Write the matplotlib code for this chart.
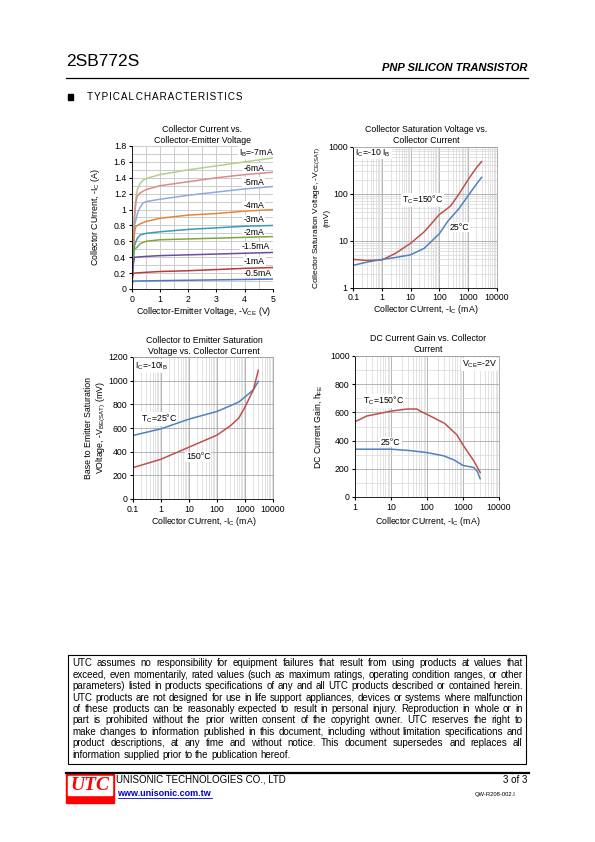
import matplotlib

matplotlib.use("Agg")
from matplotlib import pyplot as plt
from matplotlib.patches import Rectangle
from matplotlib.ticker import FuncFormatter, LogLocator, MultipleLocator, NullFormatter

W, H = 595, 842

# ---- data: Collector current vs collector-emitter voltage ----
ib_labels = ["I$_\\mathrm{B}$=-7mA", "-6mA", "-5mA", "-4mA", "-3mA", "-2mA", "-1.5mA", "-1mA", "-0.5mA"]
ib_label_y = [1.72, 1.52, 1.34, 1.045, 0.87, 0.71, 0.53, 0.34, 0.2]
ib_label_x = [3.78, 3.95, 3.95, 3.95, 3.95, 3.95, 3.88, 3.97, 3.97]
ib_colors = ["#b3d08c", "#d98c8c", "#8faadb", "#e8853a", "#3a9bb3", "#80a83f", "#6b4b9e", "#b83c3c", "#4a79c2"]

vce_7 = [0, 0.05, 0.1, 0.15, 0.2, 0.3, 0.4, 0.6, 1, 2, 3, 4, 5]
ic_7 = [0, 0.5, 0.95, 1.15, 1.25, 1.33, 1.37, 1.40, 1.44, 1.50, 1.55, 1.60, 1.65]
vce_6 = [0, 0.05, 0.1, 0.15, 0.2, 0.3, 0.5, 1, 2, 3, 4, 5]
ic_6 = [0, 0.5, 0.9, 1.1, 1.17, 1.21, 1.25, 1.3, 1.35, 1.4, 1.44, 1.47]
vce_5 = [0, 0.05, 0.1, 0.2, 0.3, 0.4, 0.5, 1, 2, 3, 4, 5]
ic_5 = [0, 0.45, 0.8, 0.95, 1.03, 1.08, 1.1, 1.13, 1.18, 1.22, 1.26, 1.29]
vce_4 = [0, 0.05, 0.1, 0.15, 0.3, 0.5, 1, 2, 3, 4, 5]
ic_4 = [0, 0.45, 0.72, 0.79, 0.82, 0.85, 0.89, 0.93, 0.95, 0.98, 1.0]
vce_3 = [0, 0.05, 0.1, 0.2, 0.3, 0.5, 1, 2, 3, 4, 5]
ic_3 = [0, 0.4, 0.55, 0.64, 0.68, 0.7, 0.72, 0.75, 0.77, 0.79, 0.8]
vce_2 = [0, 0.05, 0.1, 0.2, 0.3, 0.5, 1, 2, 3, 4, 5]
ic_2 = [0, 0.35, 0.5, 0.53, 0.57, 0.6, 0.62, 0.63, 0.64, 0.65, 0.66]
vce_15 = [0, 0.05, 0.1, 0.3, 0.5, 1, 2, 3, 4, 5]
ic_15 = [0, 0.3, 0.4, 0.405, 0.41, 0.42, 0.43, 0.44, 0.45, 0.46]
vce_1 = [0, 0.03, 0.07, 0.5, 1, 2, 3, 4, 5]
ic_1 = [0, 0.15, 0.2, 0.21, 0.22, 0.23, 0.245, 0.26, 0.27]
vce_05 = [0, 0.03, 0.07, 1, 2, 3, 4, 5]
ic_05 = [0, 0.08, 0.1, 0.105, 0.11, 0.115, 0.12, 0.125]

# ---- data: VCE(sat) vs IC ----
vce_sat_ic_150 = [0.1, 0.3, 1, 3, 10, 30, 60, 100, 150, 250, 500, 1000, 2000, 3000]
vce_sat_150 = [4.0, 3.8, 3.9, 5.4, 8.8, 15.5, 25, 36, 43, 55, 100, 195, 360, 480]
vce_sat_ic_25 = [0.1, 0.3, 1, 3, 10, 30, 100, 200, 500, 1000, 2000, 3000]
vce_sat_25 = [3.0, 3.5, 4.0, 4.4, 5.0, 6.9, 14, 26, 49, 89, 160, 222]

# ---- data: VBE(sat) vs IC ----
vbe_ic = [0.1, 1, 10, 100, 300, 600, 1000, 2000, 3000]
vbe_25 = [537, 593, 675, 740, 788, 820, 862, 924, 994]
vbe_150 = [265, 336, 438, 540, 619, 684, 777, 924, 1088]

# ---- data: hFE vs IC ----
hfe_ic_150 = [1, 2.1, 10, 28, 52, 65, 100, 310, 680, 1000, 2000, 3000]
hfe_150 = [534, 574, 609, 624, 624, 609, 586, 522, 440, 369, 256, 174]
hfe_ic_25 = [1, 10, 34, 100, 290, 550, 1000, 2000, 2500, 3000]
hfe_25 = [339, 339, 329, 315, 292, 264, 224, 209, 181, 129]

RED = "#c0504d"
BLUE = "#4f81bd"

disclaimer_lines = [
    "UTC assumes no responsibility for equipment failures that result from using products at values that",
    "exceed, even momentarily, rated values (such as maximum ratings, operating condition ranges, or other",
    "parameters) listed in products specifications of any and all UTC products described or contained herein.",
    "UTC products are not designed for use in life support appliances, devices or systems where malfunction",
    "of these products can be reasonably expected to result in personal injury. Reproduction in whole or in",
    "part is prohibited without the prior written consent of the copyright owner. UTC reserves the right to",
    "make changes to information published in this document, including without limitation specifications and",
    "product descriptions, at any time and without notice.  This document supersedes and replaces all",
    "information supplied prior to the publication hereof.",
]


def configure_plots():
    plt.rcParams.update(
        {
            "font.family": "Liberation Sans",
            "font.size": 6.3,
            "mathtext.fontset": "custom",
            "mathtext.rm": "Liberation Sans",
            "mathtext.it": "Liberation Sans:italic",
            "mathtext.bf": "Liberation Sans:bold",
            "xtick.labelsize": 6.3,
            "ytick.labelsize": 6.3,
            "xtick.major.size": 2,
            "ytick.major.size": 2,
            "xtick.minor.size": 0,
            "ytick.minor.size": 0,
            "xtick.major.pad": 2,
            "ytick.major.pad": 2,
            "axes.linewidth": 0.6,
        }
    )


def px_axes(fig, left, top, right, bottom):
    return fig.add_axes([left / W, 1 - bottom / H, (right - left) / W, (bottom - top) / H])


def ftext(fig, x, y, s, **kw):
    return fig.text(x / W, 1 - y / H, s, **kw)


def style_axes(ax):
    for side in ["top", "right"]:
        ax.spines[side].set_color("#a0a0a0")
    for side in ["left", "bottom"]:
        ax.spines[side].set_color("black")
    ax.set_axisbelow(True)


def log_x(ax, lo, hi):
    ax.set_xscale("log")
    ax.set_xlim(lo, hi)
    ax.xaxis.set_minor_locator(LogLocator(base=10, subs=range(2, 10), numticks=20))
    ax.xaxis.set_minor_formatter(NullFormatter())
    ax.xaxis.set_major_formatter(FuncFormatter(lambda v, p: f"{v:g}"))


def label_box(ax, x, y, s, **kw):
    # white patch hides the grid but stays under the curves
    ax.text(x, y, s, fontsize=6.3, zorder=1.5,
            bbox=dict(facecolor="white", edgecolor="none", pad=0.6), **kw)


def plot_ic_vce(fig):
    ax = px_axes(fig, 131.7, 146, 273, 289)
    curves = [(vce_7, ic_7), (vce_6, ic_6), (vce_5, ic_5), (vce_4, ic_4), (vce_3, ic_3),
              (vce_2, ic_2), (vce_15, ic_15), (vce_1, ic_1), (vce_05, ic_05)]
    for (v, i), c in zip(curves, ib_colors):
        ax.plot(v, i, color=c, lw=1.1, zorder=2)
    for x, y, s in zip(ib_label_x, ib_label_y, ib_labels):
        label_box(ax, x, y, s, va="center", ha="left")
    ax.set_xlim(0, 5)
    ax.set_ylim(0, 1.8)
    ax.xaxis.set_major_locator(MultipleLocator(1))
    ax.xaxis.set_minor_locator(MultipleLocator(0.5))
    ax.yaxis.set_major_locator(MultipleLocator(0.2))
    ax.yaxis.set_minor_locator(MultipleLocator(0.1))
    ax.yaxis.set_major_formatter(FuncFormatter(lambda v, p: f"{v:.1f}".rstrip("0").rstrip(".")))
    ax.grid(which="both", color="#c4c4c4", lw=0.6)
    style_axes(ax)
    ax.spines["top"].set_visible(False)
    ax.spines["right"].set_visible(False)
    ftext(fig, 202, 135, "Collector Current vs.\nCollector-Emitter Voltage", ha="center", va="center",
          fontsize=6.3, linespacing=1.2)
    ftext(fig, 204, 311, "Collector-Emitter Voltage, -V$_\\mathrm{CE}$ (V)", ha="center", va="center")
    ftext(fig, 96, 217, "Collector CUrrent, -I$_\\mathrm{C}$ (A)", ha="center", va="center", rotation=90)


def plot_vce_sat(fig):
    ax = px_axes(fig, 353.3, 146.7, 496.5, 287.7)
    ax.plot(vce_sat_ic_150, vce_sat_150, color=RED, lw=1.1)
    ax.plot(vce_sat_ic_25, vce_sat_25, color=BLUE, lw=1.1)
    log_x(ax, 0.1, 10000)
    ax.set_yscale("log")
    ax.set_ylim(1, 1000)
    ax.yaxis.set_minor_locator(LogLocator(base=10, subs=range(2, 10), numticks=20))
    ax.yaxis.set_minor_formatter(NullFormatter())
    ax.yaxis.set_major_formatter(FuncFormatter(lambda v, p: f"{v:g}"))
    ax.grid(which="major", color="#a8a8a8", lw=0.6)
    ax.grid(which="minor", color="#d8d8d8", lw=0.5)
    style_axes(ax)
    label_box(ax, 0.115, 740, "I$_\\mathrm{C}$=-10 I$_\\mathrm{B}$", va="center", ha="left")
    label_box(ax, 5, 73, "T$_\\mathrm{C}$=150°C", va="center", ha="left")
    label_box(ax, 237, 19.5, "25°C", va="center", ha="left")
    ftext(fig, 426, 135, "Collector Saturation Voltage vs.\nCollector Current", ha="center", va="center",
          linespacing=1.2)
    ftext(fig, 426, 310, "Collector CUrrent, -I$_\\mathrm{C}$ (mA)", ha="center", va="center")
    ftext(fig, 321, 218, "Collector Saturation Voltage, -V$_\\mathrm{CE(SAT)}$\n(mV)", ha="center",
          va="center", rotation=90, linespacing=1.3, fontsize=6.0)


def plot_vbe_sat(fig):
    ax = px_axes(fig, 133, 357, 273, 499)
    ax.plot(vbe_ic, vbe_25, color=BLUE, lw=1.1)
    ax.plot(vbe_ic, vbe_150, color=RED, lw=1.1)
    log_x(ax, 0.1, 10000)
    ax.set_ylim(0, 1200)
    ax.yaxis.set_major_locator(MultipleLocator(200))
    ax.grid(which="major", color="#a8a8a8", lw=0.6)
    ax.grid(which="minor", axis="x", color="#d8d8d8", lw=0.5)
    style_axes(ax)
    label_box(ax, 0.115, 1125, "I$_\\mathrm{C}$=-10I$_\\mathrm{B}$", va="center", ha="left")
    label_box(ax, 0.19, 676, "T$_\\mathrm{C}$=25°C", va="center", ha="left")
    label_box(ax, 7.8, 355, "150°C", va="center", ha="left")
    ftext(fig, 204, 346, "Collector to Emitter Saturation\nVoltage vs. Collector Current", ha="center",
          va="center", linespacing=1.2)
    ftext(fig, 204, 521, "Collector CUrrent, -I$_\\mathrm{C}$ (mA)", ha="center", va="center")
    ftext(fig, 96, 428, "Base to Emitter Saturation\nVOltage, -V$_\\mathrm{BE(SAT)}$ (mV)", ha="center",
          va="center", rotation=90, linespacing=1.3)


def plot_hfe(fig):
    ax = px_axes(fig, 355, 356, 499, 497)
    ax.plot(hfe_ic_150, hfe_150, color=RED, lw=1.1)
    ax.plot(hfe_ic_25, hfe_25, color=BLUE, lw=1.1)
    log_x(ax, 1, 10000)
    ax.set_ylim(0, 1000)
    ax.yaxis.set_major_locator(MultipleLocator(200))
    ax.yaxis.set_minor_locator(MultipleLocator(100))
    ax.grid(which="major", color="#a8a8a8", lw=0.6)
    ax.grid(which="minor", color="#d8d8d8", lw=0.5)
    style_axes(ax)
    label_box(ax, 9000, 940, "V$_\\mathrm{CE}$=-2V", va="center", ha="right")
    label_box(ax, 1.67, 680, "T$_\\mathrm{C}$=150°C", va="center", ha="left")
    label_box(ax, 5.3, 390, "25°C", va="center", ha="left")
    ftext(fig, 428, 344, "DC Current Gain vs. Collector\nCurrent", ha="center", va="center", linespacing=1.2)
    ftext(fig, 428, 521, "Collector CUrrent, -I$_\\mathrm{C}$ (mA)", ha="center", va="center")
    ftext(fig, 318, 427, "DC Current Gain, h$_\\mathrm{FE}$", ha="center", va="center", rotation=90)


def text_width(fig, renderer, s, fontsize):
    t = fig.text(0, 0, s, fontsize=fontsize)
    w = t.get_window_extent(renderer).width
    t.remove()
    return w


def justified_line(fig, renderer, text, x0, x1, y, fontsize, justify=True):
    words = text.split()
    widths = [text_width(fig, renderer, w, fontsize) for w in words]
    space = text_width(fig, renderer, "a a", fontsize) - text_width(fig, renderer, "aa", fontsize)
    if justify and len(words) > 1:
        gap = (x1 - x0 - sum(widths)) / (len(words) - 1)
    else:
        gap = space
    x = x0
    for word, w in zip(words, widths):
        ftext(fig, x, y, word, fontsize=fontsize, va="center", ha="left")
        x += w + gap


def add_page(fig):
    ftext(fig, 66, 61.5, "2SB772S", fontsize=12.5, va="center", ha="left")
    ftext(fig, 527, 68, "PNP SILICON TRANSISTOR", fontsize=8, fontweight="bold", style="italic",
          va="center", ha="right")
    fig.add_artist(plt.Line2D([66 / W, 528 / W], [1 - 78.3 / H] * 2, color="black", lw=0.9))
    fig.add_artist(Rectangle((68 / W, 1 - 99.5 / H), 5 / W, 5 / H, color="black"))
    heading = " ".join("TYPICAL CHARACTERISTICS").replace("   ", "  ").replace(" ", "\u200a")
    ftext(fig, 87, 96.5, heading, fontsize=7.2, va="center", ha="left")

    # disclaimer box; font sized so the widest justified line fits with normal spacing
    x0, x1 = 72.7, 522.7
    fig.add_artist(Rectangle((68.3 / W, 1 - 764.3 / H), 457.4 / W, 109.3 / H, fill=False,
                             edgecolor="black", lw=0.8))
    renderer = fig.canvas.get_renderer()
    fs = min(10 * (x1 - x0) / text_width(fig, renderer, line, 10) for line in disclaimer_lines[:-1])
    fs *= 0.995
    ys = [663.3, 674.8, 686.2, 697.6, 709.0, 720.4, 731.8, 743.3, 754.7]
    for i, (line, y) in enumerate(zip(disclaimer_lines, ys)):
        justified_line(fig, renderer, line, x0, x1, y, fs, justify=i < len(disclaimer_lines) - 1)

    # footer
    fig.add_artist(plt.Line2D([66 / W, 529 / W], [1 - 772.5 / H] * 2, color="black", lw=1.6))
    fig.add_artist(Rectangle((66 / W, 1 - 803 / H), 48 / W, 29.5 / H, color="#ff0000"))
    fig.add_artist(Rectangle((68 / W, 1 - 795 / H), 44 / W, 19 / H, color="white"))
    ftext(fig, 90, 785.5, "UTC", fontsize=14, family="Liberation Serif", style="italic",
          fontweight="bold", color="#ff0000", va="center", ha="center")
    ftext(fig, 116, 780, "UNISONIC TECHNOLOGIES CO., LTD", fontsize=7, va="center", ha="left")
    ftext(fig, 117.5, 793, "www.unisonic.com.tw", fontsize=6.5, fontweight="bold", color="#0000cc",
          va="center", ha="left")
    fig.add_artist(plt.Line2D([117.5 / W, 212 / W], [1 - 797.5 / H] * 2, color="#0000cc", lw=0.6))
    ftext(fig, 527, 780, "3 of 3", fontsize=7, va="center", ha="right")
    ftext(fig, 516, 794.5, "QW-R208-002.I", fontsize=4.2, va="center", ha="right")


configure_plots()
fig = plt.figure(figsize=(W / 100, H / 100), dpi=100)
plot_ic_vce(fig)
plot_vce_sat(fig)
plot_vbe_sat(fig)
plot_hfe(fig)
add_page(fig)
fig.savefig("out.png", dpi=100)
